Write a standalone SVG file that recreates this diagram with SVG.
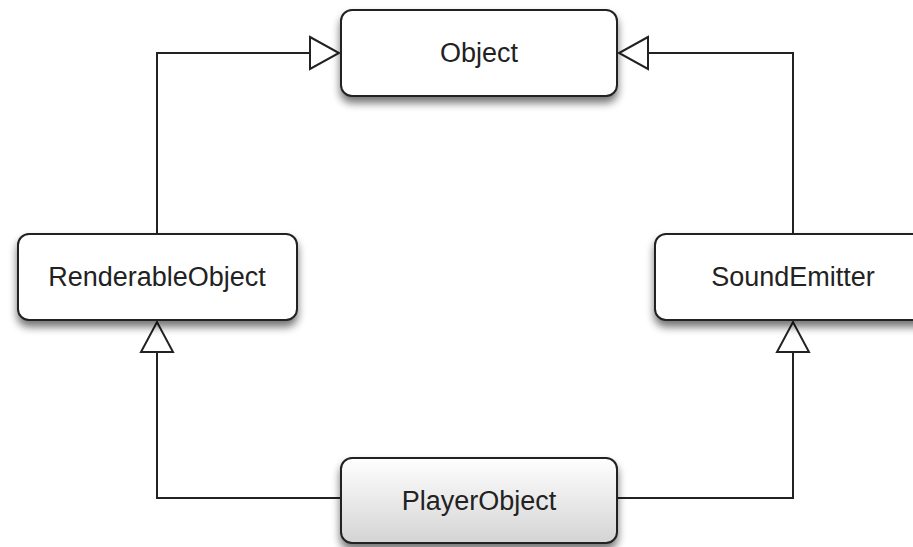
<svg xmlns="http://www.w3.org/2000/svg" width="913" height="547" viewBox="0 0 913 547">
  <style>
    .box { stroke: #222; stroke-width: 2; filter: url(#shadow); }
    .plain { fill: #fff; }
    .shaded { fill: url(#grad); }
    .label { font-family: 'Liberation Sans', Arial, Helvetica, sans-serif; font-size: 27px; fill: #222; text-anchor: middle; }
    .wire { fill: none; stroke: #222; stroke-width: 2; }
    .head { fill: #fff; stroke: #222; stroke-width: 2; stroke-linejoin: miter; }
  </style>
  <defs>
    <filter id="shadow" x="-20%" y="-30%" width="140%" height="170%">
      <feGaussianBlur in="SourceAlpha" stdDeviation="4"/>
      <feOffset dx="0" dy="6" result="b"/>
      <feComponentTransfer><feFuncA type="linear" slope="0.55"/></feComponentTransfer>
      <feMerge><feMergeNode/><feMergeNode in="SourceGraphic"/></feMerge>
    </filter>
    <linearGradient id="grad" x1="0" y1="0" x2="0" y2="1">
      <stop offset="0" stop-color="#ffffff"/>
      <stop offset="1" stop-color="#d4d4d4"/>
    </linearGradient>
  </defs>
  <rect width="913" height="547" fill="#fff"/>

  <g id="connectors">
    <path class="wire" d="M157,234 V53 H310"/>
    <polygon class="head" points="310,37 339,53 310,69"/>
    <path class="wire" d="M793,234 V53 H648"/>
    <polygon class="head" points="648,37 619,53 648,69"/>
    <path class="wire" d="M341,498 H157 V352"/>
    <polygon class="head" points="141,352 157,322 173,352"/>
    <path class="wire" d="M617,498 H793 V352"/>
    <polygon class="head" points="777,352 793,322 809,352"/>
  </g>

  <g id="object">
    <rect class="box plain" x="341" y="10" width="276" height="86" rx="11"/>
    <text class="label" x="479" y="62">Object</text>
  </g>
  <g id="renderable-object">
    <rect class="box plain" x="18" y="234" width="279" height="86" rx="11"/>
    <text class="label" x="157" y="286">RenderableObject</text>
  </g>
  <g id="sound-emitter">
    <rect class="box plain" x="655" y="234" width="276" height="86" rx="11"/>
    <text class="label" x="793" y="286">SoundEmitter</text>
  </g>
  <g id="player-object">
    <rect class="box shaded" x="341" y="458" width="276" height="85" rx="11"/>
    <text class="label" x="479" y="510">PlayerObject</text>
  </g>
</svg>
